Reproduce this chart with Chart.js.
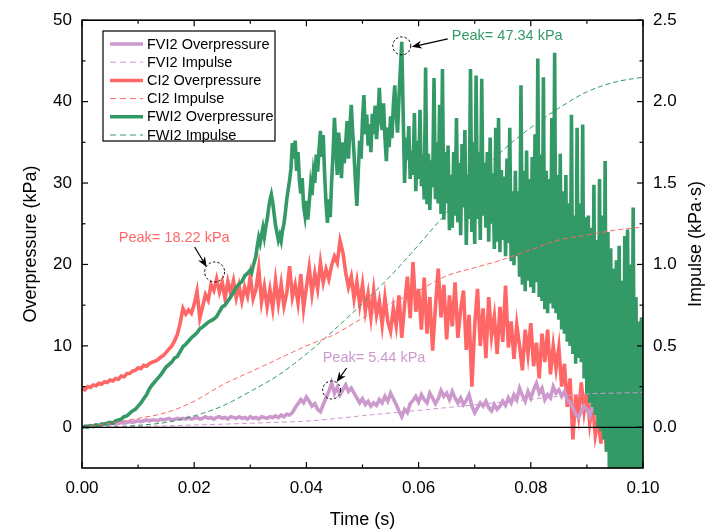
<!DOCTYPE html>
<html>
<head>
<meta charset="utf-8">
<script src="https://cdn.jsdelivr.net/npm/chart.js@4.4.1/dist/chart.umd.min.js"></script>
<style>
  html, body { margin: 0; padding: 0; background: #fff; }
  #wrap { width: 705px; height: 531px; }
</style>
</head>
<body>
<div id="wrap"><canvas id="chart" width="705" height="531"></canvas></div>
<script>
// overpressure traces, kPa
const coarseStep = 0.0005; // s
const fineStep = 0.00025;  // s

const fvi2Overpressure = [
  0.0,0.1,0.2,0.1,0.2,0.3,0.2,0.3,0.4,0.3, 0.4,0.5,0.4,0.5,0.6,0.5,0.6,0.7,0.6,0.7,
  0.8,0.7,0.8,0.9,0.8,0.9,0.9,0.8,1.0,0.9, 1.0,1.1,0.9,1.0,1.1,1.0,1.1,1.0,1.2,1.0,
  1.1,1.2,1.0,1.1,1.3,1.1,1.2,1.0,1.2,1.3, 1.1,1.2,1.0,1.3,1.2,1.1,1.3,1.1,1.2,1.0,
  1.3,1.1,1.2,1.0,1.3,1.2,1.1,1.3,1.2,1.4, 1.2,1.5,1.3,1.6,1.5,1.8,2.4,2.9,3.4,3.0,
  3.7,3.2,2.6,2.9,2.2,1.9,2.8,3.6,4.4,5.44, 4.2,4.9,4.0,4.6,5.2,4.4,4.8,4.2,3.6,3.0,
  3.5,2.8,3.2,2.6,3.0,2.7,3.4,3.0,3.8,3.2, 4.2,3.5,2.8,2.0,1.3,2.2,1.8,2.9,3.3,3.8,
  3.1,4.0,3.4,3.0,4.2,3.6,2.9,3.5,4.5,3.8, 4.2,3.4,4.4,3.6,3.0,3.6,2.8,3.3,4.0,2.6,
  1.8,2.4,3.0,2.6,3.2,2.4,2.0,2.8,2.2,2.6, 3.2,2.7,3.6,3.0,4.0,3.4,4.8,3.9,3.2,4.4,
  3.6,4.6,5.4,4.2,4.8,3.4,4.0,3.6,5.0,4.2, 4.6,3.8,4.4,3.4,3.0,2.4,1.6,1.2,2.0,2.6,
  2.2,1.4,2.8,1.8,1.0,0.6,1.5,2.2,1.4,2.0, 1.6,2.4,1.8,2.6,1.8,2.2,1.5,2.4,1.9,2.3,
  2.0
];

const ci2Overpressure = [
  4.8,4.6,5.0,4.9,5.2,5.1,5.4,5.3,5.6,5.5, 5.8,5.7,6.0,5.9,6.3,6.2,6.6,6.6,6.9,7.0,
  7.3,7.2,7.6,7.5,7.8,8.0,8.1,8.3,8.6,8.8, 9.2,9.6,10.0,10.6,11.4,12.8,14.6,13.9,14.4,14.0,
  15.1,16.7,13.4,14.8,16.3,15.6,17.5,16.8,18.22,16.6, 17.8,15.8,17.9,16.5,18.0,15.9,17.4,15.5,17.2,16.1,
  18.6,15.8,16.9,19.5,15.4,17.3,14.8,16.9,14.6,18.0, 15.2,17.6,14.9,16.5,19.8,16.0,17.5,15.3,18.8,14.6,
  17.2,19.6,16.4,18.9,17.0,20.2,17.8,19.4,18.2,19.9, 21.0,20.2,22.9,21.5,19.0,17.2,18.5,15.8,17.9,15.1,
  17.5,14.3,16.4,13.5,16.8,13.8,15.5,12.6,15.9,13.0, 11.8,14.6,12.5,16.2,11.0,15.0,18.5,13.4,20.3,14.2,
  17.0,12.0,18.4,11.5,16.0,9.4,14.8,19.5,13.5,17.5, 10.8,16.2,12.4,17.8,11.0,14.5,16.8,9.5,13.8,5.0,
  12.5,17.0,10.0,14.6,8.5,16.0,11.2,13.6,9.0,14.8, 10.5,17.4,9.8,13.0,8.4,12.6,10.0,7.0,12.0,9.0,
  12.8,7.5,10.4,6.0,11.5,8.0,12.0,6.5,10.0,7.2, 9.8,5.0,7.8,2.5,6.0,-1.5,4.0,1.5,5.5,2.0,
  4.5,0.5,3.0,-1.0,1.0,-2.0,2.0,-3.0,4.0,8.0, 10.0,6.0,11.0,8.5,12.5,9.0,7.0,12.0,9.5,12.0,
  10.0
];

// FWI2: 0 - 0.0295 s at coarse step, 0.030 - 0.100 s at fine step
const fwi2OverpressureEarly = [
  0.0,0.1,0.0,0.2,0.1,0.3,0.2,0.4,0.4,0.5, 0.6,0.5,0.8,0.9,1.0,1.3,1.4,1.7,2.0,2.2,
  2.6,3.0,3.5,4.0,4.7,5.2,5.6,6.0,6.4,6.9, 7.4,7.7,8.0,8.5,8.7,9.3,9.9,10.2,10.6,11.0,
  11.3,11.6,12.1,12.3,12.6,12.9,13.1,13.3,13.6,14.2, 14.8,15.0,15.5,16.0,16.6,17.2,17.6,17.9,18.6,18.9
];
const fwi2OverpressureLate = [
  19.3,19.0,19.8,20.4, 21.0,22.3,23.3,22.6, 23.6,24.5,23.4,24.6, 25.5,26.8,27.9,28.6, 27.6,26.2,24.8,23.9,
  23.0,23.6,22.9,24.2, 25.0,26.4,28.0,29.2, 30.3,31.8,34.9,33.0, 35.2,31.5,33.8,30.4, 28.7,30.6,27.2,26.0,
  27.8,25.5,27.6,29.8, 28.5,31.2,30.0,33.5, 31.4,34.0,36.4,33.2, 35.9,31.0,27.5,25.1, 28.0,25.8,30.2,33.6,
  38.0,34.5,31.0,36.2, 33.8,30.6,35.0,32.4, 34.8,37.6,33.0,36.8, 39.6,36.2,33.5,30.0, 27.2,31.5,35.2,33.0,
  37.8,40.8,36.0,38.4, 34.6,37.2,33.8,38.5, 36.0,39.5,35.4,37.8, 41.7,38.0,36.5,39.8, 35.6,32.7,36.8,34.4,
  38.2,35.5,39.6,42.0, 38.4,36.2,40.5,44.0, 47.34,38.5,30.0,35.6,
  32.8,37.0,30.5,34.0, 31.0,38.6,29.0,35.2, 30.5,39.0,29.6,33.5, 28.0,44.2,27.4,33.6, 26.7,32.8,29.5,42.9,
  28.0,35.0,27.5,39.6, 26.2,44.0,25.5,33.8, 27.5,34.6,24.2,31.0, 24.5,33.8,26.0,38.0, 25.2,32.5,23.6,34.8,
  27.0,36.5,22.4,31.0, 25.6,44.0,24.0,35.0, 22.5,43.2,25.6,33.8, 23.0,42.8,26.0,32.5, 24.5,33.8,22.8,35.6,
  25.0,31.2,21.9,36.8, 22.8,38.0,21.5,31.6, 23.0,30.8,21.0,33.0, 22.6,36.8,20.4,29.0, 19.9,31.5,21.0,29.0,
  18.5,42.0,17.5,31.5, 16.7,34.0,18.0,30.5, 17.2,33.2,16.5,36.0, 17.8,45.3,16.0,33.5, 15.5,43.0,14.5,31.5,
  14.0,30.5,15.2,38.0, 14.6,46.0,14.0,31.0, 13.2,33.6,12.0,29.0, 11.5,31.0,10.5,27.5, 10.0,38.4,9.0,26.0,
  7.8,36.8,8.5,27.5, 8.0,37.2,6.0,25.8, 4.0,26.0,3.0,24.5, 2.5,29.8,1.5,23.0, 0.0,30.5,-0.5,26.0,
  -1.5,32.7,-3.0,24.0, -5.5,22.0,-5.5,19.5, -5.5,20.5,-5.5,22.3, -5.5,18.0,-5.5,23.5, -5.5,24.3,-5.5,20.0,
  -5.5,27.0,-5.5,16.0, -5.5,13.0,-5.5,13.5,
  -5.5
];

// impulse, kPa·s, every 5 ms
const impulseTimes = [0,0.005,0.01,0.015,0.02,0.025,0.03,0.035,0.04,0.045,0.05,
                      0.055,0.06,0.065,0.07,0.075,0.08,0.085,0.09,0.095,0.1];
const fvi2Impulse = [0,0.002,0.005,0.009,0.014,0.019,0.025,0.031,0.038,0.053,0.071,
                     0.088,0.104,0.121,0.138,0.155,0.172,0.19,0.205,0.21,0.213];
const ci2Impulse  = [0,0.025,0.055,0.09,0.16,0.26,0.34,0.42,0.50,0.57,0.67,
                     0.76,0.84,0.93,0.98,1.03,1.09,1.15,1.18,1.21,1.23];
const fwi2Impulse = [0,0.003,0.012,0.03,0.07,0.13,0.22,0.32,0.45,0.60,0.76,
                     0.93,1.12,1.32,1.52,1.70,1.84,1.96,2.06,2.12,2.15];

// axis ticks
const timeTicks = [0, 0.02, 0.04, 0.06, 0.08, 0.10];
const pressureTicks = [0, 10, 20, 30, 40, 50];
const impulseTicks = [0, 0.5, 1.0, 1.5, 2.0, 2.5];

// peak markers
const peakLabels = ['Peak= 5.44 kPa', 'Peak= 18.22 kPa', 'Peak= 47.34 kPa'];
const peakTimes = [0.0445, 0.024, 0.057];
const peakValues = [5.44, 18.22, 47.34];

const PURPLE = '#CC99CC', RED = '#FF6666', GREEN = '#339966';
const FONT = '"Liberation Sans", Arial, sans-serif';

function toPoints(start, step, values) {
  return values.map((v, i) => ({ x: +(start + i * step).toFixed(6), y: v }));
}
function pairPoints(xs, ys) {
  return xs.map((x, i) => ({ x: x, y: ys[i] }));
}

const fwi2Points = toPoints(0, coarseStep, fwi2OverpressureEarly)
  .concat(toPoints(0.03, fineStep, fwi2OverpressureLate));

function overLine(label, data, color, order) {
  return { label, data, borderColor: color, backgroundColor: color, borderWidth: 3.6,
           pointRadius: 0, tension: 0, yAxisID: 'y', order, legendSolid: true };
}
function impulseLine(label, data, color) {
  return { label, data, borderColor: color, backgroundColor: color, borderWidth: 1,
           borderDash: [5, 3], pointRadius: 0, cubicInterpolationMode: 'monotone',
           yAxisID: 'y2', order: 1 };
}

const datasets = [
  overLine('FVI2 Overpressure', toPoints(0, coarseStep, fvi2Overpressure), PURPLE, 4),
  impulseLine('FVI2 Impulse', pairPoints(impulseTimes, fvi2Impulse), PURPLE),
  overLine('CI2 Overpressure', toPoints(0, coarseStep, ci2Overpressure), RED, 5),
  impulseLine('CI2 Impulse', pairPoints(impulseTimes, ci2Impulse), RED),
  overLine('FWI2 Overpressure', fwi2Points, GREEN, 3),
  impulseLine('FWI2 Impulse', pairPoints(impulseTimes, fwi2Impulse), GREEN),
  // zero reference line
  { label: '', data: [{ x: 0, y: 0 }, { x: 0.1, y: 0 }], borderColor: '#000', borderWidth: 1.3,
    pointRadius: 0, yAxisID: 'y', order: 0, noLegend: true }
];

// frame, inward ticks on all four sides, right title, legend box and peak callouts
const decorPlugin = {
  id: 'decor',
  afterDatasetsDraw(chart) {
    const { ctx, chartArea: a, scales } = chart;
    const line = (x1, y1, x2, y2) => { ctx.beginPath(); ctx.moveTo(x1, y1); ctx.lineTo(x2, y2); ctx.stroke(); };
    ctx.save();
    ctx.strokeStyle = '#000';
    ctx.lineWidth = 1.2;
    const majorLen = 6, minorLen = 3.5;
    timeTicks.forEach((v, i) => {
      const x = scales.x.getPixelForValue(v);
      line(x, a.bottom, x, a.bottom - majorLen);
      line(x, a.top, x, a.top + majorLen);
      if (i < timeTicks.length - 1) {
        const xm = scales.x.getPixelForValue((v + timeTicks[i + 1]) / 2);
        line(xm, a.bottom, xm, a.bottom - minorLen);
        line(xm, a.top, xm, a.top + minorLen);
      }
    });
    pressureTicks.forEach((v, i) => {
      const y = scales.y.getPixelForValue(v);
      line(a.left, y, a.left + majorLen, y);
      if (i < pressureTicks.length - 1) {
        const ym = scales.y.getPixelForValue((v + pressureTicks[i + 1]) / 2);
        line(a.left, ym, a.left + minorLen, ym);
      }
    });
    impulseTicks.forEach((v, i) => {
      const y = scales.y2.getPixelForValue(v);
      line(a.right, y, a.right - majorLen, y);
      if (i < impulseTicks.length - 1) {
        const ym = scales.y2.getPixelForValue((v + impulseTicks[i + 1]) / 2);
        line(a.right, ym, a.right - minorLen, ym);
      }
    });
    ctx.lineWidth = 1.6;
    ctx.strokeRect(a.left, a.top, a.right - a.left, a.bottom - a.top);

    // right axis title, reading bottom to top
    ctx.save();
    ctx.translate(696, (a.top + a.bottom) / 2);
    ctx.rotate(-Math.PI / 2);
    ctx.fillStyle = '#000';
    ctx.font = '18px ' + FONT;
    ctx.textAlign = 'center';
    ctx.textBaseline = 'middle';
    ctx.fillText('Impulse (kPa·s)', 0, 0);
    ctx.restore();

    // legend
    const lx = 103, ly = 31, lw = 172, lh = 110;
    ctx.fillStyle = '#fff';
    ctx.fillRect(lx, ly, lw, lh);
    ctx.lineWidth = 1.2;
    ctx.strokeStyle = '#000';
    ctx.strokeRect(lx, ly, lw, lh);
    ctx.font = '14.5px ' + FONT;
    ctx.textBaseline = 'middle';
    ctx.textAlign = 'left';
    const items = chart.data.datasets.filter(d => !d.noLegend);
    items.forEach((d, i) => {
      const y = ly + 13 + i * 18.2;
      ctx.strokeStyle = d.borderColor;
      if (d.legendSolid) { ctx.lineWidth = 3.5; ctx.setLineDash([]); }
      else { ctx.lineWidth = 1; ctx.setLineDash([6, 4]); }
      line(lx + 7, y, lx + 40, y);
      ctx.setLineDash([]);
      ctx.fillStyle = '#000';
      ctx.fillText(d.label, lx + 44, y + 0.5);
    });

    // peak callouts: [circle dx, dy, r, text dx, dy, align, arrow tail dx, dy, head dx, dy, color]
    const callouts = [
      [0, 7, 9, -9, -25, 'left', 15, -15, 5, -1, PURPLE],
      [-2, -7, 10, 13, -41, 'right', -22, -32, -10, -12, RED],
      [0, 4, 9, 50, -6, 'left', 46, -3, 10, 5, GREEN]
    ];
    callouts.forEach((c, i) => {
      const px = scales.x.getPixelForValue(peakTimes[i]);
      const py = scales.y.getPixelForValue(peakValues[i]);
      ctx.strokeStyle = '#000';
      ctx.lineWidth = 1;
      ctx.setLineDash([2.5, 2]);
      ctx.beginPath();
      ctx.arc(px + c[0], py + c[1], c[2], 0, Math.PI * 2);
      ctx.stroke();
      ctx.setLineDash([]);
      const tx = px + c[6], ty = py + c[7], hx = px + c[8], hy = py + c[9];
      const ang = Math.atan2(hy - ty, hx - tx);
      ctx.lineWidth = 1.2;
      line(tx, ty, hx - Math.cos(ang) * 6, hy - Math.sin(ang) * 6);
      ctx.fillStyle = '#000';
      ctx.beginPath();
      ctx.moveTo(hx, hy);
      ctx.lineTo(hx - Math.cos(ang) * 10 + Math.sin(ang) * 4, hy - Math.sin(ang) * 10 - Math.cos(ang) * 4);
      ctx.lineTo(hx - Math.cos(ang) * 7, hy - Math.sin(ang) * 7);
      ctx.lineTo(hx - Math.cos(ang) * 10 - Math.sin(ang) * 4, hy - Math.sin(ang) * 10 + Math.cos(ang) * 4);
      ctx.closePath();
      ctx.fill();
      ctx.fillStyle = c[10];
      ctx.font = '14.5px ' + FONT;
      ctx.textAlign = c[5];
      ctx.textBaseline = 'middle';
      ctx.fillText(peakLabels[i], px + c[3], py + c[4]);
    });
    ctx.restore();
  }
};

const tickFont = { family: FONT, size: 17 };
const titleFont = { family: FONT, size: 18 };

new Chart(document.getElementById('chart').getContext('2d'), {
  type: 'line',
  data: { datasets },
  options: {
    responsive: false,
    animation: false,
    normalized: true,
    layout: { padding: { top: 14, left: 0, right: 0, bottom: 0 } },
    plugins: { legend: { display: false }, tooltip: { enabled: false } },
    scales: {
      x: {
        type: 'linear', min: 0, max: 0.1,
        grid: { display: false, drawTicks: false },
        border: { display: false },
        afterBuildTicks: s => { s.ticks = timeTicks.map(v => ({ value: v })); },
        afterFit: s => { s.height = 63; },
        ticks: { font: tickFont, color: '#000', padding: 10, maxRotation: 0, autoSkip: false,
                 callback: v => Number(v).toFixed(2) },
        title: { display: true, text: 'Time (s)', font: titleFont, color: '#000', padding: { top: 2, bottom: 0 } }
      },
      y: {
        type: 'linear', position: 'left', min: -5, max: 50,
        grid: { display: false, drawTicks: false },
        border: { display: false },
        afterBuildTicks: s => { s.ticks = pressureTicks.map(v => ({ value: v })); },
        afterFit: s => { s.width = 82; },
        ticks: { font: tickFont, color: '#000', padding: 10, callback: v => String(v) },
        title: { display: true, text: 'Overpressure (kPa)', font: titleFont, color: '#000', padding: { top: 20, bottom: 0 } }
      },
      y2: {
        type: 'linear', position: 'right', min: -0.25, max: 2.5,
        grid: { display: false, drawTicks: false },
        border: { display: false },
        afterBuildTicks: s => { s.ticks = impulseTicks.map(v => ({ value: v })); },
        afterFit: s => { s.width = 62; },
        ticks: { font: tickFont, color: '#000', padding: 10, callback: v => Number(v).toFixed(1) },
        title: { display: false }
      }
    }
  },
  plugins: [decorPlugin]
});
</script>
</body>
</html>
